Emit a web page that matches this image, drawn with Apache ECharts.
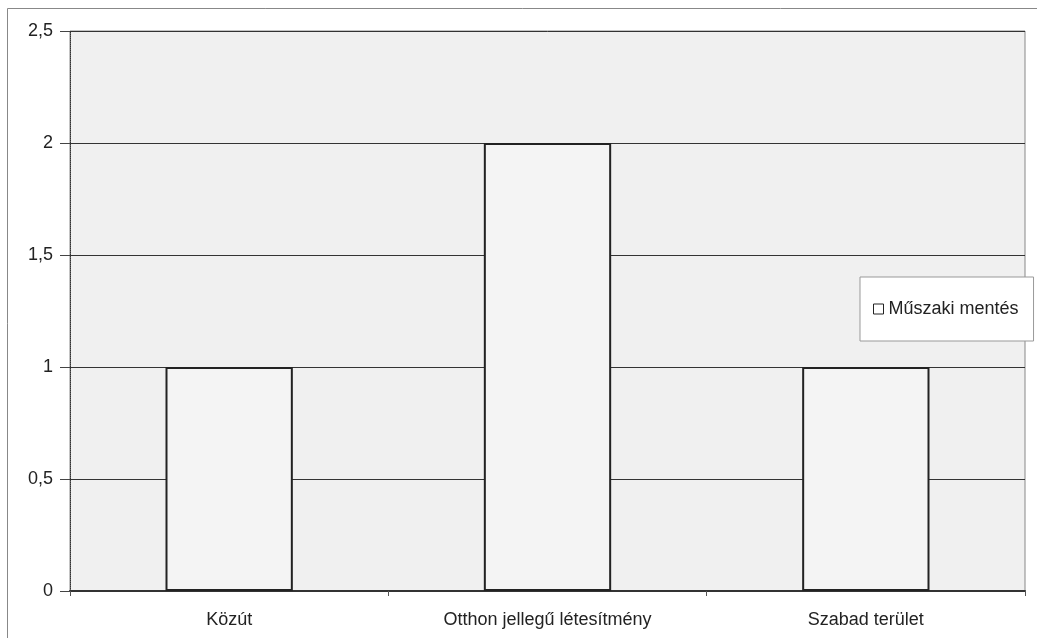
<!DOCTYPE html>
<html><head><meta charset="utf-8">
<script src="https://cdn.jsdelivr.net/npm/echarts@6/dist/echarts.min.js"></script>
<style>html,body{margin:0;padding:0;background:#fff}#c{width:1037px;height:638px}</style>
</head><body><div id="c"></div>
<script>
const categories = ['Közút', 'Otthon jellegű létesítmény', 'Szabad terület'];
const seriesName = 'Műszaki mentés';
const values = [1, 2, 1];

const chart = echarts.init(document.getElementById('c'));
chart.setOption({
  backgroundColor: '#fff',
  animation: false,
  textStyle: { fontFamily: 'Liberation Sans, Arial, sans-serif' },
  grid: { left: 70, top: 31, right: 12, bottom: 47, show: true, backgroundColor: '#f0f0f0', borderColor: '#888', borderWidth: 1 },
  graphic: [
    { type: 'rect', shape: { x: 7.5, y: 8.5, width: 1040, height: 640 }, style: { fill: 'none', stroke: '#888', lineWidth: 1 }, z: -1 }
  ],
  legend: {
    data: [seriesName],
    left: 860, top: 277,
    padding: [23, 15, 23, 13],
    backgroundColor: '#fff',
    borderColor: '#999', borderWidth: 1,
    icon: 'rect', itemWidth: 10, itemHeight: 10, itemGap: 5,
    textStyle: { fontSize: 18, color: '#222', fontFamily: 'Liberation Sans, Arial, sans-serif' },
    itemStyle: { color: '#fff', borderColor: '#222', borderWidth: 1 }
  },
  xAxis: {
    type: 'category', data: categories,
    axisLine: { lineStyle: { color: '#333', width: 2 } },
    axisTick: { show: true, length: 5, lineStyle: { color: '#555' } },
    axisLabel: { fontSize: 18, color: '#222', margin: 20 }
  },
  yAxis: {
    type: 'value', min: 0, max: 2.5, interval: 0.5,
    axisLine: { show: true, lineStyle: { color: '#333', width: 1, type: 'dotted' } },
    axisTick: { show: true, length: 10, lineStyle: { color: '#444' } },
    axisLabel: { fontSize: 18, color: '#222', margin: 17, formatter: v => String(v).replace('.', ',') },
    splitLine: { lineStyle: { color: '#333', width: 1 } }
  },
  series: [{
    name: seriesName, type: 'bar', data: values,
    barWidth: '40%',
    itemStyle: { color: '#f4f4f4', borderColor: '#222', borderWidth: 2 }
  }]
});
</script></body></html>
